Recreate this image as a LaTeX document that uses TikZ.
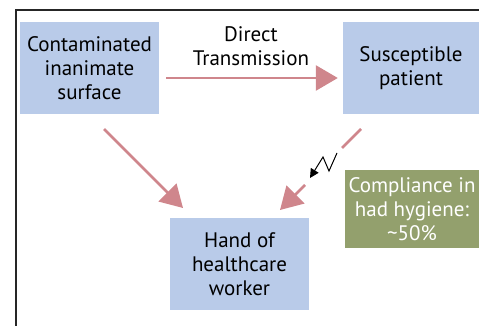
\documentclass[tikz,border=0pt]{standalone}
\usepackage{fontspec}
\setmainfont{PT Sans}
\usepackage{tikz}
\usetikzlibrary{arrows.meta}
\usetikzlibrary{shapes}

\definecolor{boxblue}{HTML}{B9CBE9}
\definecolor{boxgreen}{HTML}{93A06D}
\definecolor{arrowpink}{HTML}{CF868C}

\begin{document}
\begin{tikzpicture}[x=1pt, y=-1pt, every node/.style={align=center, inner sep=0pt, font=\fontsize{21}{24}\selectfont},
	box/.style={fill=boxblue, minimum width=139pt, minimum height=92pt},
	flow/.style={draw=arrowpink, line width=2.7pt, -{Triangle[length=22pt,width=25pt]}}]
	\useasboundingbox (0,0) rectangle (479,326);
	\clip (0,0) rectangle (479,326);
	%Frame
	\draw[line width=1.5pt, black!85] (16,326) -- (16,10) -- (479,10);
	%Boxes
	\node [box] (surface) at (89.5,68) {Contaminated\\inanimate\\surface};
	\node [box, minimum width=136pt] (patient) at (411,68) {Susceptible\\patient};
	\node [box] (hand) at (239.5,264) {Hand of\\healthcare\\worker};
	\node [fill=boxgreen, text=white, minimum width=134pt, minimum height=78pt] (compliance) at (412,209) {Compliance in\\had hygiene:\\\textasciitilde50\%};
	%Direct transmission
	\draw[flow, shorten <=7pt, shorten >=5pt] ([yshift=-10pt]surface.east) -- node [above=11pt] {Direct\\Transmission} ([yshift=-10pt]patient.west);
	%To the hand
	\coordinate (s1) at (104,129);
	\coordinate (s2) at (183,208);
	\draw[flow] (s1) -- (s2);
	\coordinate (p1) at (361,129);
	\coordinate (p2) at (342,148);
	\coordinate (p3) at (305,185);
	\coordinate (p4) at (280,210);
	\draw[draw=arrowpink, line width=2.7pt] (p1) -- (p2);
	\draw[flow] (p3) -- (p4);
	%Break
	\coordinate (z1) at (337,153);
	\coordinate (z2) at (329,171);
	\coordinate (z3) at (323,157);
	\coordinate (z4) at (310,178);
	\draw[line width=1pt, -{Triangle[length=9pt,width=9pt]}] (z1) -- (z2) -- (z3) -- (z4);
\end{tikzpicture}
\end{document}
